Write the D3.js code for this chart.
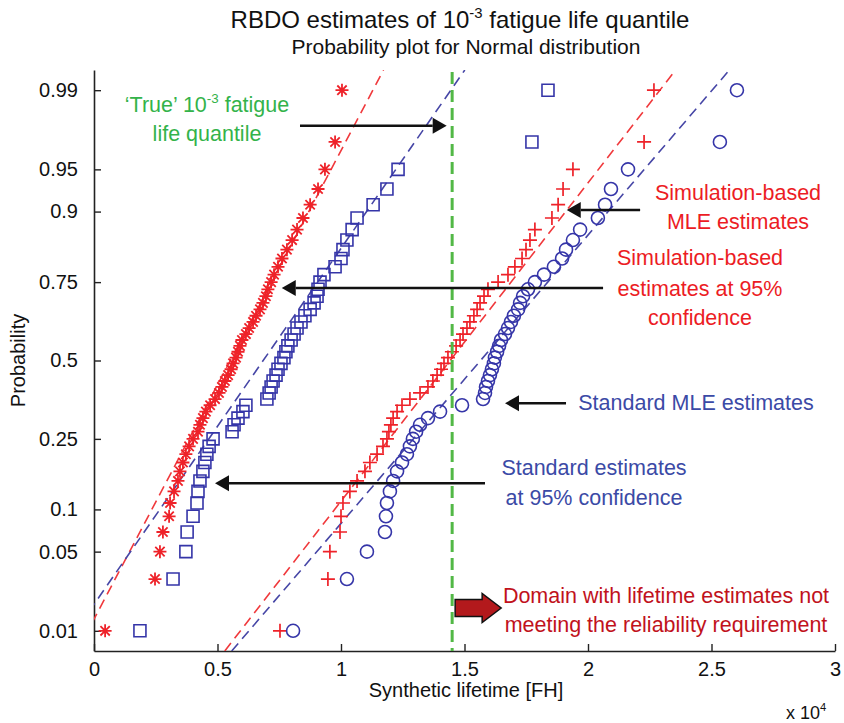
<!DOCTYPE html>
<html>
<head>
<meta charset="utf-8">
<script src="https://cdn.jsdelivr.net/npm/d3@7/dist/d3.min.js"></script>
<style>
  html, body { margin: 0; padding: 0; background: #fff; }
  svg { display: block; }
  text { font-family: "Liberation Sans", Arial, Helvetica, sans-serif; }
</style>
</head>
<body>
<svg id="chart" width="844" height="723"></svg>
<script>
// Synthetic lifetimes [FH], sorted, 50 RBDO runs per estimation method
const simConfLife = [450, 2470, 2670, 2790, 3040, 3080, 3240, 3400, 3480, 3600,
  3720, 3850, 4010, 4210, 4290, 4410, 4530, 4700, 4900, 5060,
  5180, 5300, 5430, 5550, 5630, 5750, 5830, 5910, 5990, 6150,
  6280, 6440, 6560, 6720, 6840, 6960, 7040, 7170, 7290, 7450,
  7610, 7810, 8020, 8220, 8460, 8750, 9070, 9350, 9760, 10040];
const stdConfLife = [1860, 3200, 3720, 3770, 4010, 4170, 4210, 4290, 4410, 4490,
  4570, 4660, 4820, 5590, 5670, 5830, 6030, 6150, 7000, 7090,
  7170, 7250, 7370, 7450, 7570, 7690, 7770, 7850, 7980, 8100,
  8220, 8380, 8540, 8750, 8910, 9030, 9070, 9150, 9310, 9760,
  10000, 10080, 10240, 10450, 10650, 11300, 11860, 12310, 17730, 18380];
const simMleLife = [7530, 9470, 9550, 9960, 10000, 10080, 10360, 10650, 10970, 11170,
  11460, 11700, 11860, 11940, 12020, 12110, 12270, 12470, 12790, 13200,
  13520, 13720, 13890, 14050, 14170, 14330, 14490, 14660, 14820, 14940,
  15100, 15220, 15380, 15510, 15630, 15790, 15950, 16360, 16760, 17040,
  17330, 17490, 17650, 17850, 18540, 18790, 18990, 19390, 22270, 22670];
const stdMleLife = [8060, 10240, 11050, 11780, 11820, 11860, 11980, 12110, 12270, 12470,
  12670, 12790, 12910, 13040, 13200, 13520, 14010, 14900, 15750, 15830,
  15870, 15950, 16030, 16110, 16190, 16230, 16320, 16400, 16480, 16640,
  16760, 16880, 17000, 17170, 17250, 17370, 17570, 17850, 18220, 18620,
  18950, 19110, 19390, 19680, 20400, 20690, 20930, 21620, 25340, 26030];

// Fitted normal reference lines (mean, standard deviation) per method
const fitMean = [5520, 6850, 14420, 15650];
const fitStd  = [2480, 3265, 3650, 4030];

// 'True' 1e-3 fatigue life quantile [FH]
const trueQuantile = 14500;

// Axis ticks
const lifeTicks = [0, 5000, 10000, 15000, 20000, 25000, 30000];
const lifeTickLabels = ["0", "0.5", "1", "1.5", "2", "2.5", "3"];
const probTicks = [0.01, 0.05, 0.1, 0.25, 0.5, 0.75, 0.9, 0.95, 0.99];
const probTickLabels = ["0.01", "0.05", "0.1", "0.25", "0.5", "0.75", "0.9", "0.95", "0.99"];

// Inverse standard normal CDF (Acklam)
function norminv(p) {
  const a = [-3.969683028665376e+01, 2.209460984245205e+02, -2.759285104469687e+02, 1.383577518672690e+02, -3.066479806614716e+01, 2.506628277459239e+00];
  const b = [-5.447609879822406e+01, 1.615858368580409e+02, -1.556989798598866e+02, 6.680131188771972e+01, -1.328068155288572e+01];
  const c = [-7.784894002430293e-03, -3.223964580411365e-01, -2.400758277161838e+00, -2.549732539343734e+00, 4.374664141464968e+00, 2.938163982698783e+00];
  const d = [7.784695709041462e-03, 3.224671290700398e-01, 2.445134137142996e+00, 3.754408661907416e+00];
  const pl = 0.02425, ph = 1 - pl;
  let q, r;
  if (p < pl) {
    q = Math.sqrt(-2 * Math.log(p));
    return (((((c[0]*q+c[1])*q+c[2])*q+c[3])*q+c[4])*q+c[5]) / ((((d[0]*q+d[1])*q+d[2])*q+d[3])*q+1);
  }
  if (p <= ph) {
    q = p - 0.5; r = q * q;
    return (((((a[0]*r+a[1])*r+a[2])*r+a[3])*r+a[4])*r+a[5])*q / (((((b[0]*r+b[1])*r+b[2])*r+b[3])*r+b[4])*r+1);
  }
  q = Math.sqrt(-2 * Math.log(1 - p));
  return -(((((c[0]*q+c[1])*q+c[2])*q+c[3])*q+c[4])*q+c[5]) / ((((d[0]*q+d[1])*q+d[2])*q+d[3])*q+1);
}

const svg = d3.select("#chart");
const W = 844, H = 723;
const plot = { left: 94, right: 835, top: 70, bottom: 651 };

const x = d3.scaleLinear().domain([0, 30000]).range([plot.left, plot.right]);
// Normal probability paper: linear in the standard normal quantile
const yz = d3.scaleLinear().domain([-2.5, 2.5]).range([plot.bottom, plot.top]);
const yp = p => yz(norminv(p));

const RED = "#ee2229", BLUE = "#3535a8", RED_LINE = "#f0393c", BLUE_LINE = "#4646a6";

svg.append("rect").attr("width", W).attr("height", H).attr("fill", "#fff");

svg.append("defs").append("clipPath").attr("id", "plotclip")
  .append("rect")
  .attr("x", plot.left).attr("y", plot.top)
  .attr("width", plot.right - plot.left).attr("height", plot.bottom - plot.top);

// Axes with inward ticks
const xAxis = d3.axisBottom(x).tickValues(lifeTicks)
  .tickFormat((d, i) => lifeTickLabels[i])
  .tickSizeInner(-7).tickSizeOuter(0).tickPadding(11);
const yAxis = d3.axisLeft(yz).tickValues(probTicks.map(norminv))
  .tickFormat((d, i) => probTickLabels[i])
  .tickSizeInner(-7).tickSizeOuter(0).tickPadding(16);

const gx = svg.append("g").attr("transform", `translate(0,${plot.bottom})`).call(xAxis);
const gy = svg.append("g").attr("transform", `translate(${plot.left},0)`).call(yAxis);
[gx, gy].forEach(g => {
  g.select(".domain").attr("stroke", "#222").attr("stroke-width", 1.6);
  g.selectAll(".tick line").attr("stroke", "#222").attr("stroke-width", 1.4);
  g.selectAll(".tick text").attr("fill", "#111").attr("font-size", 20)
    .attr("font-family", "'Liberation Sans', Arial, sans-serif");
});

// Fitted reference lines
const series = [
  { life: simConfLife, color: RED,  line: RED_LINE,  marker: "star" },
  { life: stdConfLife, color: BLUE, line: BLUE_LINE, marker: "square" },
  { life: simMleLife,  color: RED,  line: RED_LINE,  marker: "plus" },
  { life: stdMleLife,  color: BLUE, line: BLUE_LINE, marker: "circle" }
];

const gLines = svg.append("g").attr("clip-path", "url(#plotclip)");
series.forEach((s, k) => {
  const zs = [-2.5, 2.5];
  gLines.append("line")
    .attr("x1", x(fitMean[k] + fitStd[k] * zs[0])).attr("y1", yz(zs[0]))
    .attr("x2", x(fitMean[k] + fitStd[k] * zs[1])).attr("y2", yz(zs[1]))
    .attr("stroke", s.line).attr("stroke-width", 1.6)
    .attr("stroke-dasharray", "10,6");
});

// Data markers at midpoint plotting positions (i - 0.5) / n
const markerPath = {
  star: r => `M${-r},0H${r}M0,${-r}V${r}M${-r*0.72},${-r*0.72}L${r*0.72},${r*0.72}M${-r*0.72},${r*0.72}L${r*0.72},${-r*0.72}`,
  plus: r => `M${-r},0H${r}M0,${-r}V${r}`,
  square: r => `M${-r},${-r}H${r}V${r}H${-r}Z`,
  circle: r => `M${r},0A${r},${r} 0 1 1 ${-r},0A${r},${r} 0 1 1 ${r},0Z`
};
const markerSize = { star: 6.5, plus: 7, square: 6, circle: 6.5 };
const markerWidth = { star: 1.8, plus: 1.7, square: 1.6, circle: 1.6 };

series.forEach(s => {
  const n = s.life.length;
  svg.append("g").selectAll("path").data(s.life).join("path")
    .attr("transform", (d, i) => `translate(${x(d)},${yp((i + 0.5) / n)})`)
    .attr("d", markerPath[s.marker](markerSize[s.marker]))
    .attr("fill", "none").attr("stroke", s.color).attr("stroke-width", markerWidth[s.marker]);
});

// 'True' quantile line
svg.append("line")
  .attr("x1", x(trueQuantile)).attr("x2", x(trueQuantile))
  .attr("y1", plot.top + 2).attr("y2", plot.bottom)
  .attr("stroke", "#52b846").attr("stroke-width", 3)
  .attr("stroke-dasharray", "12,6");

// Black annotation arrows (life from, life to at tip, standard normal quantile)
const arrows = [
  { from: 8340,  to: 14280, z: 2.021 },
  { from: 20610, to: 7600,  z: 0.624 },
  { from: 22110, to: 19140, z: 1.295 },
  { from: 19110, to: 16640, z: -0.368 },
  { from: 15830, to: 4900,  z: -1.057 }
];
const gArr = svg.append("g");
arrows.forEach(a => {
  const x1 = x(a.from), x2 = x(a.to), yy = yz(a.z);
  const dir = Math.sign(x2 - x1), headL = 14, headW = 8;
  gArr.append("line")
    .attr("x1", x1).attr("y1", yy).attr("x2", x2 - dir * headL).attr("y2", yy)
    .attr("stroke", "#111").attr("stroke-width", 2.5);
  gArr.append("path")
    .attr("d", `M${x2},${yy}L${x2 - dir*headL},${yy - headW}L${x2 - dir*headL},${yy + headW}Z`)
    .attr("fill", "#111");
});

// Block arrow marking the non-compliant domain
{
  const bx = x(trueQuantile) + 3, by = yz(-2.13);
  svg.append("path")
    .attr("d", `M${bx},${by - 8.5}H${bx + 27}V${by - 14.5}L${bx + 46},${by}L${bx + 27},${by + 14.5}V${by + 8.5}H${bx}Z`)
    .attr("fill", "#b3191c").attr("stroke", "#111").attr("stroke-width", 1.5)
    .attr("stroke-linejoin", "miter");
}

// Text helpers
function label(xc, yb, lines, color, size, anchor = "middle") {
  lines.forEach((ln, i) => {
    const t = svg.append("text")
      .attr("x", xc).attr("y", yb[i])
      .attr("text-anchor", anchor)
      .attr("fill", color).attr("font-size", size);
    ln.forEach(part => {
      const ts = t.append("tspan").text(part.t);
      if (part.sup) ts.attr("font-size", size * 0.62).attr("dy", -size * 0.42);
      if (part.after) ts.attr("dy", size * 0.42);
    });
  });
}

// Titles
label(460, [28], [[{ t: "RBDO estimates of 10" }, { t: "-3", sup: true }, { t: " fatigue life quantile", after: true }]], "#111", 24);
label(466, [54], [[{ t: "Probability plot for Normal distribution" }]], "#111", 21);

// Annotations
const GREEN_TXT = "#33b34a", RED_TXT = "#ec1c24", BLUE_TXT = "#3b4aa6", DARK_RED = "#c1121c";
const ANN = 21.5;
label(207, [112, 141], [
  [{ t: "\u2018True\u2019 10" }, { t: "-3", sup: true }, { t: " fatigue", after: true }],
  [{ t: "life quantile" }]
], GREEN_TXT, ANN);
label(738, [200, 229], [[{ t: "Simulation-based" }], [{ t: "MLE estimates" }]], RED_TXT, ANN);
label(700, [265, 296, 325], [[{ t: "Simulation-based" }], [{ t: "estimates at 95%" }], [{ t: "confidence" }]], RED_TXT, ANN);
label(696, [410], [[{ t: "Standard MLE estimates" }]], BLUE_TXT, ANN);
label(594, [475, 505], [[{ t: "Standard estimates" }], [{ t: "at 95% confidence" }]], BLUE_TXT, ANN);
label(666, [603, 632], [[{ t: "Domain with lifetime estimates not" }], [{ t: "meeting the reliability requirement" }]], DARK_RED, ANN);

// Axis titles
label(466, [697], [[{ t: "Synthetic lifetime [FH]" }]], "#111", 20);
svg.append("text")
  .attr("transform", `translate(25,${yz(0)}) rotate(-90)`)
  .attr("text-anchor", "middle").attr("font-size", 20).attr("fill", "#111")
  .text("Probability");
label(786, [719], [[{ t: "x 10" }, { t: "4", sup: true }]], "#111", 18, "start");
</script>
</body>
</html>
